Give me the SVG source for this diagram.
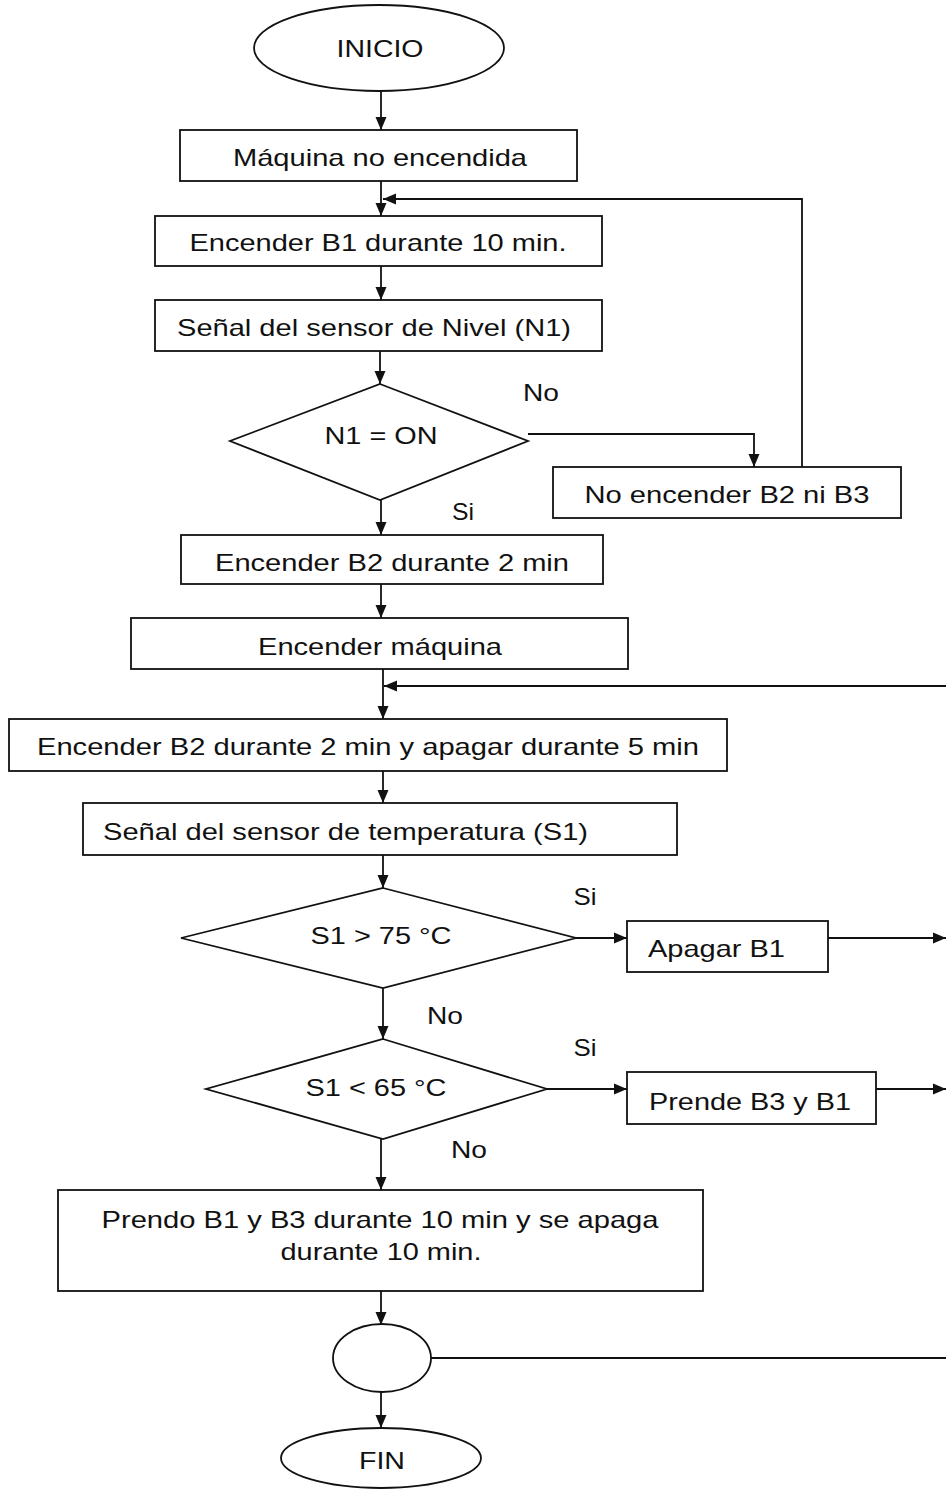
<svg xmlns="http://www.w3.org/2000/svg" width="946" height="1489" viewBox="0 0 946 1489">
  <style>
    .shape { fill: #fff; stroke: #111; stroke-width: 1.8; }
    .line { fill: none; stroke: #111; stroke-width: 1.8; }
    .t { font-family: "Liberation Sans", Arial, sans-serif; font-size: 24px; fill: #111; text-anchor: middle; }
    .ts { font-family: "Liberation Sans", Arial, sans-serif; font-size: 24px; fill: #111; text-anchor: start; }
  </style>
  <defs>
    <marker id="arrow" markerUnits="userSpaceOnUse" markerWidth="14" markerHeight="12" refX="13" refY="6" orient="auto">
      <path d="M0,0.5 L13,6 L0,11.5 z" fill="#111"/>
    </marker>
  </defs>
  <rect width="946" height="1489" fill="#fff"/>

  <!-- connectors -->
  <g id="connectors">
    <line class="line" x1="381" y1="91" x2="381" y2="130" marker-end="url(#arrow)"/>
    <line class="line" x1="381" y1="181" x2="381" y2="216" marker-end="url(#arrow)"/>
    <polyline class="line" points="802,467 802,199 383,199" marker-end="url(#arrow)"/>
    <line class="line" x1="381" y1="266" x2="381" y2="300" marker-end="url(#arrow)"/>
    <line class="line" x1="380" y1="351" x2="380" y2="384" marker-end="url(#arrow)"/>
    <polyline class="line" points="528,434 754,434 754,467" marker-end="url(#arrow)"/>
    <line class="line" x1="381" y1="500" x2="381" y2="535" marker-end="url(#arrow)"/>
    <line class="line" x1="381" y1="584" x2="381" y2="618" marker-end="url(#arrow)"/>
    <line class="line" x1="383" y1="669" x2="383" y2="719" marker-end="url(#arrow)"/>
    <line class="line" x1="946" y1="686" x2="384" y2="686" marker-end="url(#arrow)"/>
    <line class="line" x1="383" y1="771" x2="383" y2="803" marker-end="url(#arrow)"/>
    <line class="line" x1="383" y1="855" x2="383" y2="888" marker-end="url(#arrow)"/>
    <line class="line" x1="576" y1="938" x2="627" y2="938" marker-end="url(#arrow)"/>
    <line class="line" x1="828" y1="938" x2="946" y2="938" marker-end="url(#arrow)"/>
    <line class="line" x1="383" y1="988" x2="383" y2="1039" marker-end="url(#arrow)"/>
    <line class="line" x1="547" y1="1089" x2="627" y2="1089" marker-end="url(#arrow)"/>
    <line class="line" x1="876" y1="1089" x2="946" y2="1089" marker-end="url(#arrow)"/>
    <line class="line" x1="381" y1="1139" x2="381" y2="1190" marker-end="url(#arrow)"/>
    <line class="line" x1="381" y1="1291" x2="381" y2="1325" marker-end="url(#arrow)"/>
    <line class="line" x1="431" y1="1358" x2="946" y2="1358"/>
    <line class="line" x1="381" y1="1392" x2="381" y2="1428" marker-end="url(#arrow)"/>
  </g>

  <!-- edge labels -->
  <g id="labels">
    <text class="t" x="541" y="401" textLength="36" lengthAdjust="spacingAndGlyphs">No</text>
    <text class="t" x="463" y="520" textLength="22" lengthAdjust="spacingAndGlyphs">Si</text>
    <text class="t" x="585" y="905" textLength="23" lengthAdjust="spacingAndGlyphs">Si</text>
    <text class="t" x="445" y="1024" textLength="36" lengthAdjust="spacingAndGlyphs">No</text>
    <text class="t" x="585" y="1056" textLength="23" lengthAdjust="spacingAndGlyphs">Si</text>
    <text class="t" x="469" y="1158" textLength="36" lengthAdjust="spacingAndGlyphs">No</text>
  </g>

  <g id="inicio">
    <ellipse class="shape" cx="379" cy="48" rx="125" ry="43"/>
    <text class="t" x="380" y="57" textLength="87" lengthAdjust="spacingAndGlyphs">INICIO</text>
  </g>
  <g id="maquina-no-encendida">
    <rect class="shape" x="180" y="130" width="397" height="51"/>
    <text class="t" x="380" y="166" textLength="294" lengthAdjust="spacingAndGlyphs">Máquina no encendida</text>
  </g>
  <g id="encender-b1">
    <rect class="shape" x="155" y="216" width="447" height="50"/>
    <text class="t" x="378" y="251" textLength="377" lengthAdjust="spacingAndGlyphs">Encender B1 durante 10 min.</text>
  </g>
  <g id="sensor-nivel">
    <rect class="shape" x="155" y="300" width="447" height="51"/>
    <text class="t" x="374" y="336" textLength="394" lengthAdjust="spacingAndGlyphs">Señal del sensor de Nivel (N1)</text>
  </g>
  <g id="n1-on">
    <polygon class="shape" points="380,384 528,441 380,500 230,441"/>
    <text class="t" x="381" y="444" textLength="113" lengthAdjust="spacingAndGlyphs">N1 = ON</text>
  </g>
  <g id="no-encender-b2-b3">
    <rect class="shape" x="553" y="467" width="348" height="51"/>
    <text class="t" x="727" y="503" textLength="285" lengthAdjust="spacingAndGlyphs">No encender B2 ni B3</text>
  </g>
  <g id="encender-b2">
    <rect class="shape" x="181" y="535" width="422" height="49"/>
    <text class="t" x="392" y="571" textLength="354" lengthAdjust="spacingAndGlyphs">Encender B2 durante 2 min</text>
  </g>
  <g id="encender-maquina">
    <rect class="shape" x="131" y="618" width="497" height="51"/>
    <text class="t" x="380" y="655" textLength="244" lengthAdjust="spacingAndGlyphs">Encender máquina</text>
  </g>
  <g id="ciclo-b2">
    <rect class="shape" x="9" y="719" width="718" height="52"/>
    <text class="t" x="368" y="755" textLength="662" lengthAdjust="spacingAndGlyphs">Encender B2 durante 2 min y apagar durante 5 min</text>
  </g>
  <g id="sensor-temperatura">
    <rect class="shape" x="83" y="803" width="594" height="52"/>
    <text class="ts" x="103" y="840" textLength="485" lengthAdjust="spacingAndGlyphs">Señal del sensor de temperatura (S1)</text>
  </g>
  <g id="s1-mayor-75">
    <polygon class="shape" points="383,888 576,938 383,988 181,938"/>
    <text class="t" x="381" y="944" textLength="141" lengthAdjust="spacingAndGlyphs">S1 &gt; 75 °C</text>
  </g>
  <g id="apagar-b1">
    <rect class="shape" x="627" y="921" width="201" height="51"/>
    <text class="ts" x="648" y="957" textLength="137" lengthAdjust="spacingAndGlyphs">Apagar B1</text>
  </g>
  <g id="s1-menor-65">
    <polygon class="shape" points="383,1039 547,1089 383,1139 206,1089"/>
    <text class="t" x="376" y="1096" textLength="141" lengthAdjust="spacingAndGlyphs">S1 &lt; 65 °C</text>
  </g>
  <g id="prende-b3-b1">
    <rect class="shape" x="627" y="1072" width="249" height="52"/>
    <text class="ts" x="649" y="1110" textLength="202" lengthAdjust="spacingAndGlyphs">Prende B3 y B1</text>
  </g>
  <g id="prendo-b1-b3">
    <rect class="shape" x="58" y="1190" width="645" height="101"/>
    <text class="t" x="380" y="1228" textLength="557" lengthAdjust="spacingAndGlyphs">Prendo B1 y B3 durante 10 min y se apaga</text>
    <text class="t" x="381" y="1260" textLength="201" lengthAdjust="spacingAndGlyphs">durante 10 min.</text>
  </g>
  <g id="conector">
    <ellipse class="shape" cx="382" cy="1358" rx="49" ry="34"/>
  </g>
  <g id="fin">
    <ellipse class="shape" cx="381" cy="1458" rx="100" ry="30"/>
    <text class="t" x="382" y="1469" textLength="46" lengthAdjust="spacingAndGlyphs">FIN</text>
  </g>
</svg>
